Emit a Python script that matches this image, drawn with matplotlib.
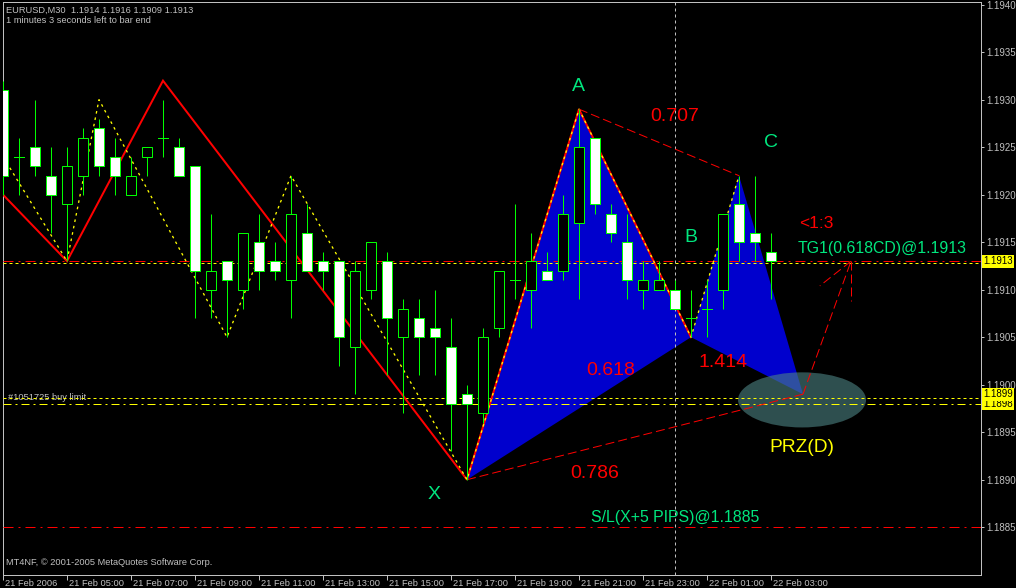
import matplotlib
matplotlib.use("Agg")
import matplotlib.pyplot as plt
import matplotlib.transforms as mtransforms
from matplotlib.patches import Rectangle, Polygon, Ellipse

# ---------------- data ----------------
symbol_header = "EURUSD,M30  1.1914 1.1916 1.1909 1.1913"
timer_text = "1 minutes 3 seconds left to bar end"
copyright_text = "MT4NF, \u00a9 2001-2005 MetaQuotes Software Corp."

# 30-minute bars starting 21 Feb 2006 03:00
opens = [1.1931, 1.1924, 1.1925, 1.1922, 1.1919, 1.1922, 1.1927, 1.1924, 1.1920, 1.1924,
         1.1926, 1.1925, 1.1923, 1.1910, 1.1913, 1.1910, 1.1915, 1.1913, 1.1911, 1.1916,
         1.1913, 1.1913, 1.1904, 1.1910, 1.1913, 1.1905, 1.1907, 1.1906, 1.1904, 1.1899,
         1.1897, 1.1906, 1.1911, 1.1910, 1.1912, 1.1912, 1.1917, 1.1926, 1.1918, 1.1915,
         1.1910, 1.1910, 1.1910, 1.1907, 1.1908, 1.1910, 1.1919, 1.1916, 1.1914]
highs = [1.1932, 1.1926, 1.1930, 1.1925, 1.1925, 1.1927, 1.1928, 1.1926, 1.1924, 1.1925,
         1.1930, 1.1926, 1.1923, 1.1918, 1.1913, 1.1916, 1.1918, 1.1915, 1.1922, 1.1919,
         1.1914, 1.1913, 1.1913, 1.1915, 1.1914, 1.1909, 1.1909, 1.1910, 1.1907, 1.1900,
         1.1906, 1.1912, 1.1919, 1.1916, 1.1914, 1.1920, 1.1929, 1.1926, 1.1919, 1.1918,
         1.1913, 1.1913, 1.1911, 1.1910, 1.1911, 1.1918, 1.1922, 1.1922, 1.1916]
lows = [1.1920, 1.1920, 1.1922, 1.1916, 1.1913, 1.1920, 1.1922, 1.1920, 1.1920, 1.1922,
        1.1924, 1.1922, 1.1907, 1.1907, 1.1905, 1.1908, 1.1910, 1.1911, 1.1907, 1.1912,
        1.1910, 1.1902, 1.1899, 1.1909, 1.1901, 1.1897, 1.1901, 1.1901, 1.1893, 1.1890,
        1.1896, 1.1905, 1.1909, 1.1906, 1.1911, 1.1911, 1.1909, 1.1918, 1.1915, 1.1909,
        1.1908, 1.1910, 1.1908, 1.1905, 1.1905, 1.1908, 1.1913, 1.1913, 1.1909]
closes = [1.1922, 1.1924, 1.1923, 1.1920, 1.1923, 1.1926, 1.1923, 1.1922, 1.1922, 1.1925,
          1.1926, 1.1922, 1.1912, 1.1912, 1.1911, 1.1916, 1.1912, 1.1912, 1.1918, 1.1912,
          1.1912, 1.1905, 1.1912, 1.1915, 1.1907, 1.1908, 1.1905, 1.1905, 1.1898, 1.1898,
          1.1905, 1.1912, 1.1911, 1.1913, 1.1911, 1.1918, 1.1925, 1.1919, 1.1916, 1.1911,
          1.1911, 1.1911, 1.1908, 1.1907, 1.1908, 1.1918, 1.1915, 1.1915, 1.1913]

time_tick_bars = [0, 4, 8, 12, 16, 20, 24, 28, 32, 36, 40, 44, 48]
time_tick_labels = ["21 Feb 2006", "21 Feb 05:00", "21 Feb 07:00", "21 Feb 09:00",
                    "21 Feb 11:00", "21 Feb 13:00", "21 Feb 15:00", "21 Feb 17:00",
                    "21 Feb 19:00", "21 Feb 21:00", "21 Feb 23:00", "22 Feb 01:00",
                    "22 Feb 03:00"]
price_ticks = [1.1885, 1.1890, 1.1895, 1.1900, 1.1905, 1.1910, 1.1915,
               1.1920, 1.1925, 1.1930, 1.1935, 1.1940]

# zigzag swings (bar index, price)
zigzag_major_bars = [0, 4, 10, 29, 36, 43]
zigzag_major_prices = [1.1920, 1.1913, 1.1932, 1.1890, 1.1929, 1.1905]
zigzag_minor_bars = [0, 4, 6, 14, 18, 29, 36, 43, 46]
zigzag_minor_prices = [1.1924, 1.1913, 1.1930, 1.1905, 1.1922, 1.1890, 1.1929, 1.1905, 1.1922]

# Gartley points X, A, B, C, D
pattern_bars = [29, 36, 43, 46, 50]
pattern_prices = [1.1890, 1.1929, 1.1905, 1.1922, 1.1899]
target_bar, target_price = 53, 1.1913
stop_price = 1.1885
bid_price = 1.19128
order_prices = [1.18986, 1.1898]
order_label = "#1051725 buy limit"
cursor_bar = 42

# ---------------- style ----------------
BG = "black"
GRID_GRAY = "#c0c0c0"
CANDLE = "#00ff00"
LBL_GREEN = "#00e67e"
RED = "#ff0000"
YELLOW = "#ffff00"
BLUE = "#0000cd"
PX = 0.72  # one pixel in points at 100 dpi
FONT = "Liberation Sans"
SMALL = dict(family=FONT, fontsize=6.7, color=GRID_GRAY)

W, H = 1016, 588
fig = plt.figure(figsize=(W / 100, H / 100), dpi=100, facecolor=BG)
ax = fig.add_axes([3 / W, 13 / H, 978 / W, 573 / H], facecolor=BG)
ax.set_xlim(0, 61.125)
ax.set_ylim(1.187997, 1.194028)

for s in ax.spines.values():
    s.set_color(GRID_GRAY)
    s.set_linewidth(PX)

# right price scale
ax.yaxis.tick_right()
ax.set_yticks(price_ticks)
ax.set_yticklabels([f"{p:.4f}" for p in price_ticks])
ax.tick_params(axis="y", colors=GRID_GRAY, length=3 * PX, width=PX, pad=2 * PX,
               labelsize=7)
for lab in ax.get_yticklabels():
    lab.set_family(FONT)

# bottom time scale: ticks on the axis, labels sit on the figure's lower edge
ax.set_xticks(time_tick_bars)
ax.set_xticklabels([])
ax.tick_params(axis="x", colors=GRID_GRAY, length=5 * PX, width=PX)
time_trans = mtransforms.blended_transform_factory(ax.transData, fig.transFigure)
time_shift = mtransforms.ScaledTranslation(2 / 100, 0.5 / 100, fig.dpi_scale_trans)
for b, txt in zip(time_tick_bars, time_tick_labels):
    ax.text(b, 0, txt, transform=time_trans + time_shift, ha="left", va="bottom",
            clip_on=False, **SMALL)

X, A, B, C, D = list(zip(pattern_bars, pattern_prices))

# pattern triangles
ax.add_patch(Polygon([X, A, B], closed=True, facecolor=BLUE, edgecolor="none", zorder=1))
ax.add_patch(Polygon([B, C, D], closed=True, facecolor=BLUE, edgecolor="none", zorder=1))

# potential reversal zone
ax.add_patch(Ellipse((49.94, 1.18984), 8.0, 0.00058, facecolor="#4e8484",
                     edgecolor="none", alpha=0.6, zorder=2))

# horizontal levels
ax.axhline(target_price, color=RED, lw=PX, ls=(0, (10, 5, 2, 5)), zorder=3)
ax.axhline(bid_price, color=YELLOW, lw=PX, ls=(0, (3, 3)), zorder=3)
ax.axhline(order_prices[0], color=YELLOW, lw=PX, ls=(0, (3, 3)), zorder=3)
ax.axhline(order_prices[1], color=YELLOW, lw=PX, ls=(0, (8, 4, 2, 4)), zorder=3)
ax.axhline(stop_price, color=RED, lw=PX, ls=(0, (10, 5, 2, 5)), zorder=3)
ax.axvline(cursor_bar, color=GRID_GRAY, lw=PX, ls=(0, (3, 3)), zorder=3)

# zigzags
ax.plot(zigzag_major_bars, zigzag_major_prices, color=RED, lw=2 * PX, zorder=4,
        solid_joinstyle="miter")
ax.plot(zigzag_minor_bars, zigzag_minor_prices, color=YELLOW, lw=1.3 * PX,
        ls=(0, (2, 3)), zorder=5)

# ratio legs and target arrow
dash = (0, (9, 4))
ax.plot([A[0], C[0]], [A[1], C[1]], color=RED, lw=PX, ls=dash, zorder=6)
ax.plot([X[0], D[0]], [X[1], D[1]], color=RED, lw=PX, ls=dash, zorder=6)
ax.plot([D[0], target_bar], [D[1], target_price], color=RED, lw=PX, ls=dash, zorder=6)
ax.plot([target_bar, target_bar], [target_price, target_price - 0.00042],
        color=RED, lw=PX, ls=dash, zorder=6)
ax.plot([target_bar, target_bar - 1.95], [target_price, target_price - 0.00026],
        color=RED, lw=PX, ls=dash, zorder=6)

# candles
body_w = 0.58
for i, (o, h, l, c) in enumerate(zip(opens, highs, lows, closes)):
    ax.plot([i, i], [l, h], color=CANDLE, lw=PX, zorder=8, solid_capstyle="butt")
    if abs(o - c) < 1e-7:
        ax.plot([i - 0.34, i + 0.34], [o, o], color=CANDLE, lw=PX, zorder=9)
    else:
        face = "white" if c < o else "black"
        ax.add_patch(Rectangle((i - body_w / 2, min(o, c)), body_w, abs(c - o),
                               facecolor=face, edgecolor=CANDLE, lw=PX, zorder=9))


def label(txt, xy, dx, dy, color, size, z=12):
    ax.annotate(txt, xy=xy, xytext=(dx * PX, -dy * PX), textcoords="offset points",
                ha="center", va="center", color=color, fontsize=size,
                family=FONT, zorder=z, annotation_clip=False)


label("A", A, -1, -23, LBL_GREEN, 14)
label("X", X, -33, 15, LBL_GREEN, 14)
label("B", B, 0, -100, LBL_GREEN, 14)
label("C", C, 32, -33, LBL_GREEN, 14)
label("0.707", ((A[0] + C[0]) / 2, (A[1] + C[1]) / 2), 16, -26, RED, 14)
label("0.618", ((X[0] + B[0]) / 2, (X[1] + B[1]) / 2), 32, -38, RED, 14)
label("1.414", ((B[0] + D[0]) / 2, (B[1] + D[1]) / 2), -24, -3, RED, 14)
label("0.786", ((X[0] + D[0]) / 2, (X[1] + D[1]) / 2), -40, 37, RED, 14)
label("PRZ(D)", D, -1, 53, YELLOW, 13.8)
label("<1:3", (target_bar, target_price), -35, -38, RED, 12.5)
label("TG1(0.618CD)@1.1913", (target_bar, target_price), 31, -13, LBL_GREEN, 11.4)
label("S/L(X+5 PIPS)@1.1885", (cursor_bar, stop_price), 0, -10, LBL_GREEN, 11.4)

ax.annotate(order_label, xy=(0, order_prices[0]), xytext=(5 * PX, 0.5 * PX),
            textcoords="offset points", ha="left", va="center", zorder=2,
            **SMALL)

# header and footer text
fig.text(6 / W, 1 - 10.7 / H, symbol_header, ha="left", va="center", **SMALL)
fig.text(6 / W, 1 - 20.7 / H, timer_text, ha="left", va="center", **SMALL)
fig.text(6 / W, 1 - 562.7 / H, copyright_text, ha="left", va="center", **SMALL)


# highlighted prices on the scale
def price_tag(p):
    ax.annotate(f"{p:.4f}", xy=(1, p), xycoords=("axes fraction", "data"),
                xytext=(2 * PX, 0), textcoords="offset points", ha="left", va="center",
                color="black", fontsize=7, family=FONT, zorder=20,
                annotation_clip=False,
                bbox=dict(boxstyle="square,pad=0.15", facecolor=YELLOW, edgecolor="none"))


price_tag(order_prices[1])
price_tag(round(order_prices[0], 4))
price_tag(round(bid_price, 4))

fig.savefig("out.png", dpi=100, facecolor=BG)
